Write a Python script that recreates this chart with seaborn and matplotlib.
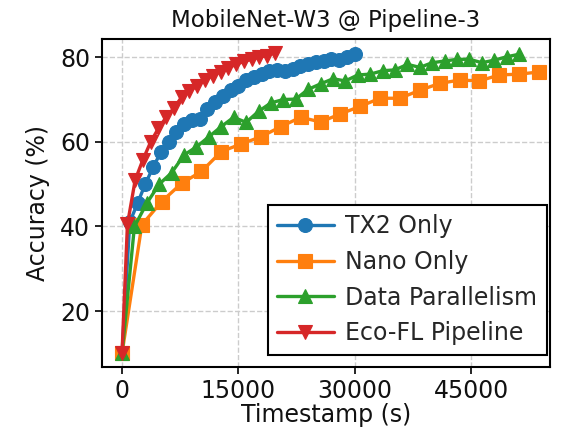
import matplotlib
matplotlib.use("Agg")
import matplotlib.pyplot as plt
import seaborn as sns
import pandas as pd

# ---- data ----
tx2_time = [0, 1000, 2000, 3000, 4000, 5000, 6000, 7000, 8000, 9000, 10000,
            11000, 12000, 13000, 14000, 15000, 16000, 17000, 18000, 19000, 20000,
            21000, 22000, 23000, 24000, 25000, 26000, 27000, 28000, 29000, 30000]
tx2_acc = [10, 41, 45.5, 50, 54, 57.5, 60, 62.4, 64.3, 65.2, 65.3,
           67.8, 69.5, 70.8, 72.3, 73.3, 74.5, 75.3, 76.0, 76.8, 77.0,
           76.8, 77.3, 78.0, 78.4, 78.8, 79.0, 79.5, 79.4, 80.0, 80.8]

nano_time = [0, 2560, 5120, 7680, 10240, 12800, 15360, 17920, 20480, 23040, 25600,
             28160, 30720, 33280, 35840, 38400, 40960, 43520, 46080, 48640, 51200, 53760]
nano_acc = [10, 40.4, 45.9, 50.2, 53.0, 57.7, 59.5, 61.2, 63.6, 65.8, 64.7,
            66.6, 68.4, 70.3, 70.3, 72.2, 73.8, 74.6, 74.4, 75.8, 76.0, 76.5]

dp_time = [0, 1600, 3200, 4800, 6400, 8000, 9600, 11200, 12800, 14400, 16000,
           17600, 19200, 20800, 22400, 24000, 25600, 27200, 28800, 30400, 32000,
           33600, 35200, 36800, 38400, 40000, 41600, 43200, 44800, 46400, 48000,
           49600, 51200]
dp_acc = [10, 40, 45.5, 50, 52.7, 56.9, 58.8, 61.2, 63.6, 65.8, 64.6,
          67.2, 69.2, 70.0, 70.1, 72.4, 73.7, 74.9, 74.4, 75.8, 76.0,
          76.8, 77.0, 78.3, 77.6, 78.7, 79.1, 79.5, 79.5, 78.7, 79.3,
          80.1, 80.7]

eco_time = [0, 700, 1700, 2700, 3700, 4700, 5700, 6700, 7700, 8700, 9700,
            10700, 11700, 12700, 13700, 14700, 15700, 16700, 17700, 18700, 19700]
eco_acc = [10, 40.5, 51, 55.8, 60, 63.2, 65.8, 68, 70.6, 72.1, 73.2,
           74.7, 75.6, 76.6, 77.5, 78.3, 79.0, 79.5, 80.0, 80.4, 81.0]

labels = ["TX2 Only", "Nano Only", "Data Parallelism", "Eco-FL Pipeline"]
title = "MobileNet-W3 @ Pipeline-3"
x_ticks = [0, 15000, 30000, 45000]
y_ticks = [20, 40, 60, 80]

# ---- style ----
sns.set_theme(style="ticks")
plt.rcParams["font.family"] = ["DejaVu Sans"]

fig = plt.figure(figsize=(5.72, 4.38), dpi=100)
ax = fig.add_axes([102 / 572, 1 - 367 / 438, (550 - 102) / 572, (367 - 39) / 438])

pal = sns.color_palette("tab10")
series = [
    (tx2_time, tx2_acc, "o", pal[0]),
    (nano_time, nano_acc, "s", pal[1]),
    (dp_time, dp_acc, "^", pal[2]),
    (eco_time, eco_acc, "v", pal[3]),
]
for (t, a, m, c), lab in zip(series, labels):
    df = pd.DataFrame({"t": t, "acc": a})
    sns.lineplot(data=df, x="t", y="acc", ax=ax, marker=m, color=c, label=lab,
                 linewidth=2.4, markersize=10, markeredgewidth=0.8,
                 markeredgecolor=c)

ax.set_xlim(-2580, 55180)
ax.set_ylim(6.8, 84.3)
ax.set_xticks(x_ticks)
ax.set_yticks(y_ticks)
ax.grid(True, linestyle="--", color="#cccccc", linewidth=1.0)
ax.set_axisbelow(True)
for s in ax.spines.values():
    s.set_color("black")
    s.set_linewidth(1.5)
ax.tick_params(axis="both", labelsize=17, colors="black", length=5, width=1.2,
               labelcolor="#111111")
ax.set_xlabel("Timestamp (s)", fontsize=17, color="#111111", labelpad=0)
ax.set_ylabel("Accuracy (%)", fontsize=17, color="#111111", labelpad=7)
ax.set_title(title, fontsize=16.5, color="#111111", pad=9)

leg = ax.legend(loc="lower right", bbox_to_anchor=(0.993, 0.037), fontsize=17,
                frameon=True, fancybox=False, framealpha=1.0,
                edgecolor="black", labelspacing=0.5, handlelength=2.4,
                borderpad=0.4, handletextpad=0.5, borderaxespad=0)
leg.get_frame().set_linewidth(1.5)

fig.savefig("out.png", dpi=100)
